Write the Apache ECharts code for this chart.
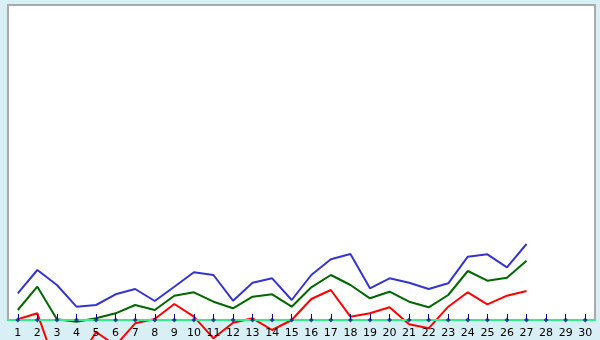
<!DOCTYPE html>
<html><head><meta charset="utf-8">
<script src="https://cdn.jsdelivr.net/npm/echarts@6/dist/echarts.min.js"></script>
<style>html,body{margin:0;padding:0;background:#d9eff6;}#c{width:600px;height:340px;}</style>
</head><body><div id="c"></div>
<script>
var categories = ['1','2','3','4','5','6','7','8','9','10','11','12','13','14','15','16','17','18','19','20','21','22','23','24','25','26','27','28','29','30'];
var blueValues = [26.7,50,35,13.3,15,25.7,31,19,33.3,47.7,45,19.3,37.3,41.7,20,45,60.7,66,31.7,41.7,37.3,31,36.7,63.3,65.7,52.7,76,null,null,null];
var greenValues = [10,33.3,0.7,-1.7,1.7,6.7,15,10,24.3,27.7,18.3,11.7,23.3,25.7,13.3,32.7,45,35,21.7,28.3,18.3,12.7,25,49,39.3,42.3,59.3,null,null,null];
var redValues = [0.7,6.7,-49,-44,-12,-25.5,-3.3,1,16,3.3,-18.3,-2.7,1.7,-10,0,21,30,3.3,6.7,12.7,-4.3,-8.3,13.3,27.7,15.7,24.3,29,null,null,null];
var markerValues = categories.map(function(){return 0;});

var chart = echarts.init(document.getElementById('c'), null, {renderer:'canvas'});
function ln(data,color){return {type:'line',data:data,symbol:'none',clip:false,connectNulls:false,lineStyle:{color:color,width:2},itemStyle:{color:color},z:3,animation:false};}
chart.setOption({
  backgroundColor:'#d9eff6',
  animation:false,
  grid:{left:8,right:5,top:5,bottom:20,show:true,backgroundColor:'#ffffff',borderColor:'#aaaaaa',borderWidth:2},
  xAxis:{type:'category',data:categories,boundaryGap:true,
    axisLine:{show:true,lineStyle:{color:'#33ee88',width:2}},
    axisTick:{show:true,inside:true,alignWithLabel:true,interval:0,length:6,lineStyle:{color:'#000080',width:1}},
    axisLabel:{interval:0,color:'#000',fontFamily:'DejaVu Sans',fontSize:11,margin:8},
    splitLine:{show:false},z:5},
  yAxis:{type:'value',min:0,max:315,show:false,splitLine:{show:false}},
  series:[
    ln(blueValues,'#3535cc'),
    ln(greenValues,'#006600'),
    ln(redValues,'#ff0000'),
    {type:'scatter',data:markerValues,symbol:'diamond',symbolSize:5,itemStyle:{color:'#1a1a99'},z:6,animation:false}
  ]
});
</script></body></html>
